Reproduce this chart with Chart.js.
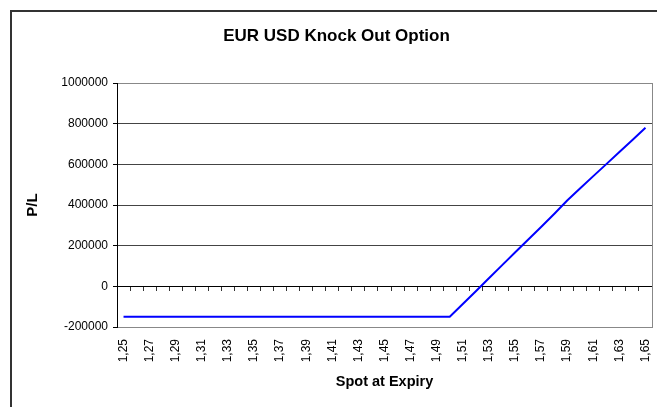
<!DOCTYPE html>
<html>
<head>
<meta charset="utf-8">
<script src="https://cdn.jsdelivr.net/npm/chart.js@4.4.0/dist/chart.umd.min.js"></script>
<style>
  html, body { margin: 0; padding: 0; background: #fff; }
  #wrap { position: relative; width: 657px; height: 407px; overflow: hidden; }
  #frame { position: absolute; left: 10px; top: 10px; width: 700px; height: 450px;
           border-left: 2px solid #333; border-top: 2px solid #333; }
  #koChart { position: absolute; left: 0; top: 0; }
</style>
</head>
<body>
<div id="wrap">
  <div id="frame"></div>
  <canvas id="koChart" width="657" height="407"></canvas>
</div>
<script>
// spot at expiry (categories)
const spotLabels = [
  '1,25', '1,26', '1,27', '1,28', '1,29', '1,30', '1,31', '1,32', '1,33', '1,34',
  '1,35', '1,36', '1,37', '1,38', '1,39', '1,40', '1,41', '1,42', '1,43', '1,44',
  '1,45', '1,46', '1,47', '1,48', '1,49', '1,50', '1,51', '1,52', '1,53', '1,54',
  '1,55', '1,56', '1,57', '1,58', '1,59', '1,60', '1,61', '1,62', '1,63', '1,64',
  '1,65'
];

// P/L per spot
const plValues = [
  -150000, -150000, -150000, -150000, -150000, -150000, -150000, -150000, -150000, -150000,
  -150000, -150000, -150000, -150000, -150000, -150000, -150000, -150000, -150000, -150000,
  -150000, -150000, -150000, -150000, -150000, -150000, -87000, -24000, 40000, 103000,
  166000, 229000, 292000, 356000, 422000, 482000, 542000, 601000, 661000, 720000,
  780000
];

const yTickValues = [-200000, 0, 200000, 400000, 600000, 800000, 1000000];

const FONT = '"Liberation Sans", Arial, sans-serif';

// rechter Rand der Zeichenfläche
const plotFrame = {
  id: 'plotFrame',
  beforeDatasetsDraw(chart) {
    const { ctx, chartArea } = chart;
    ctx.save();
    ctx.strokeStyle = '#888';
    ctx.lineWidth = 1;
    ctx.beginPath();
    ctx.moveTo(Math.round(chartArea.right) + 0.5, chartArea.top);
    ctx.lineTo(Math.round(chartArea.right) + 0.5, chartArea.bottom);
    ctx.stroke();
    ctx.restore();
  }
};

function noPad(scale) {
  scale.paddingLeft = 0;
  scale.paddingRight = 0;
  scale.paddingTop = 0;
  scale.paddingBottom = 0;
}

new Chart(document.getElementById('koChart'), {
  type: 'line',
  data: {
    labels: spotLabels,
    datasets: [{
      label: 'P/L',
      data: plValues,
      borderColor: '#0000ff',
      borderWidth: 2,
      pointRadius: 0,
      tension: 0,
      fill: false
    }]
  },
  options: {
    responsive: false,
    animation: false,
    devicePixelRatio: 1,
    layout: { padding: { left: 21, right: 5, top: 0, bottom: 0 } },
    plugins: {
      legend: { display: false },
      tooltip: { enabled: false },
      title: {
        display: true,
        text: 'EUR USD Knock Out Option',
        color: '#000',
        font: { family: FONT, size: 17, weight: 'bold' },
        padding: { top: 26, bottom: 36.6 }
      }
    },
    scales: {
      x: {
        type: 'category',
        position: 'bottom',
        offset: true,
        grid: { display: false, drawTicks: false },
        border: { display: true, color: '#888', width: 1 },
        ticks: {
          autoSkip: false,
          minRotation: 90,
          maxRotation: 90,
          padding: 12,
          color: '#000',
          font: { family: FONT, size: 12 },
          callback: function (value, index) {
            return index % 2 === 0 ? this.getLabelForValue(value) : '';
          }
        },
        title: {
          display: true,
          text: 'Spot at Expiry',
          color: '#000',
          font: { family: FONT, size: 14.5, weight: 'bold' },
          padding: { top: 0, bottom: 16 }
        },
        afterFit(scale) {
          scale.height = 80;
          noPad(scale);
        }
      },
      x0: {
        type: 'category',
        position: { y: 0 },
        offset: true,
        grid: { offset: true, drawOnChartArea: false, drawTicks: true, tickLength: 4, color: '#333' },
        border: { display: true, color: '#000', width: 1 },
        ticks: { display: false },
        afterFit(scale) { noPad(scale); }
      },
      y: {
        min: -200000,
        max: 1000000,
        afterBuildTicks(scale) {
          scale.ticks = yTickValues.map(v => ({ value: v }));
        },
        grid: {
          color: ctx => {
            const v = ctx.tick ? ctx.tick.value : null;
            if (v === 0) return '#000';
            if (v === 1000000 || v === -200000) return '#888';
            return '#444';
          },
          tickColor: '#000',
          tickLength: 4,
          drawTicks: true
        },
        border: { display: true, color: '#000', width: 1 },
        ticks: {
          padding: 5,
          color: '#000',
          font: { family: FONT, size: 12 },
          callback: value => String(value)
        },
        title: {
          display: true,
          text: 'P/L',
          color: '#000',
          font: { family: FONT, size: 15, weight: 'bold' },
          padding: { top: 3, bottom: 0 }
        },
        afterFit(scale) {
          scale.width = 96;
          noPad(scale);
        }
      }
    }
  },
  plugins: [plotFrame]
});
</script>
</body>
</html>
